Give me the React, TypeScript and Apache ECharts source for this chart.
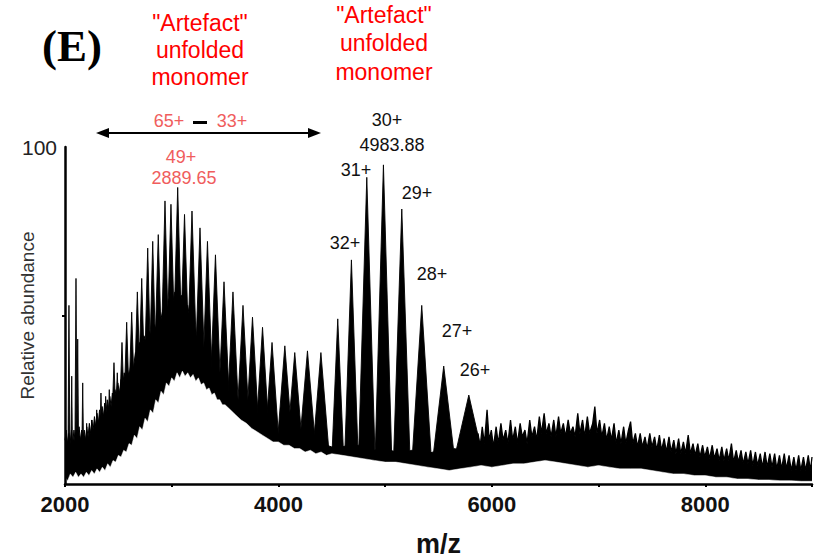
import React, { useEffect, useRef } from 'react';
import * as echarts from 'echarts';

// ---- Data ----
// Resolved charge-state peaks: m/z, relative abundance, half-width at baseline (m/z)
const peakMz = [2037, 2063, 2103, 2119, 2166, 2203, 2250, 2297, 2337, 2381, 2415, 2459, 2490, 2534, 2578, 2625, 2678, 2719, 2775, 2822, 2874, 2937, 2993, 3056, 3120, 3190, 3265, 3335, 3410, 3490, 3574, 3668, 3757, 3851, 3940, 4060, 4153, 4272, 4398, 4556, 4684, 4828, 4984, 5156, 5343, 5549, 5784];
const peakHeight = [53, 32, 61, 43, 30, 18, 19, 22, 27, 26, 28, 36, 33, 42, 48, 51, 57, 61, 70, 72, 74, 84, 83, 88, 80, 81, 76, 72, 68, 60, 57, 53, 49.5, 46.5, 42, 41, 39, 39.5, 39, 49, 66.5, 91, 94.7, 81.6, 53, 35, 26.4];
const peakHalfWidth = [11, 10, 12, 11, 12, 14, 16, 20, 24, 26, 30, 40, 40, 45, 48, 52, 54, 56, 56, 58, 66, 66, 72, 74, 80, 80, 80, 78, 82, 85, 85, 88, 88, 90, 92, 100, 100, 105, 100, 66, 72, 85, 85, 85, 105, 130, 190];

// Unresolved dense signal (upper edge of the dark mass)
const coreMz = [2000, 2012, 2024, 2036, 2048, 2060, 2072, 2084, 2096, 2108, 2120, 2132, 2144, 2156, 2168, 2180, 2192, 2204, 2216, 2228, 2240, 2252, 2264, 2276, 2288, 2300, 2312, 2324, 2336, 2348, 2360, 2372, 2384, 2396, 2408, 2420, 2432, 2444, 2456, 2468, 2480, 2495, 2510, 2525, 2540, 2555, 2570, 2585, 2600, 2620, 2640, 2660, 2680, 2700, 2720, 2740, 2760, 2780, 2800, 2825, 2850, 2875, 2900, 2925, 2950, 2975, 3000, 3030, 3060, 3090, 3120, 3150, 3180, 3210, 3240, 3270, 3300, 3330, 3360, 3390, 3420, 3450, 3480, 3510, 3540, 3570, 3600, 3640, 3680, 3720, 3760, 3800, 3840, 3880, 3920, 3960, 4000, 4050, 4100, 4150, 4200, 4250, 4300, 4350, 4400, 4450, 4500, 4550, 4600, 4650, 4700, 4750, 4800, 4850, 4900, 4950, 5000, 5050, 5100, 5150, 5200, 5250, 5300, 5350, 5400, 5450, 5500, 5550, 5600, 5650, 5700, 5750, 5800, 5850];
const coreHeight = [13, 16, 12, 15, 12, 16, 12, 16, 12, 16, 13, 17, 13, 16, 13, 16, 13, 17, 14, 18, 15, 19, 16, 20, 17, 21, 18, 22, 19, 23, 20, 24, 21, 25, 22, 26, 23, 27, 24, 28, 26, 30, 27, 31, 29, 33, 30, 34, 32, 36, 34, 39, 37, 42, 39, 44, 42, 46, 44, 48, 46, 51, 49, 53, 50, 55, 52, 57, 54, 56, 51, 53, 47, 48, 42, 43, 38, 38, 34, 34, 30, 30, 27, 27, 25, 25, 23, 23, 21, 21, 19, 19, 17, 17, 15.5, 15.5, 14.5, 14.5, 13.5, 13.5, 12.5, 12.5, 12, 12, 11.5, 11.5, 11, 11.5, 11, 11.5, 11, 11.5, 10.5, 11, 10, 10.5, 10, 10, 9.5, 10, 9.5, 10, 9, 9.5, 9, 9.5, 9, 9.5, 9.5, 10.5, 10, 10.5, 10, 9.5];

// High-m/z noisy tail
const tailMz = [5845, 5870, 5890, 5910, 5930, 5955, 5975, 5995, 6015, 6040, 6060, 6085, 6105, 6130, 6150, 6175, 6195, 6220, 6240, 6265, 6285, 6310, 6330, 6355, 6375, 6400, 6420, 6445, 6465, 6490, 6510, 6535, 6555, 6580, 6600, 6625, 6645, 6670, 6690, 6715, 6735, 6760, 6780, 6805, 6825, 6850, 6870, 6895, 6915, 6945, 6965, 6985, 7010, 7030, 7055, 7075, 7100, 7120, 7145, 7165, 7190, 7210, 7235, 7255, 7280, 7300, 7320, 7345, 7365, 7390, 7410, 7435, 7455, 7480, 7500, 7525, 7545, 7570, 7590, 7615, 7635, 7660, 7680, 7705, 7725, 7750, 7770, 7795, 7815, 7840, 7860, 7885, 7905, 7930, 7950, 7975, 7995, 8020, 8040, 8065, 8085, 8110, 8130, 8155, 8175, 8200, 8220, 8245, 8265, 8290, 8310, 8335, 8355, 8380, 8400, 8425, 8445, 8470, 8490, 8515, 8535, 8560, 8580, 8605, 8625, 8650, 8670, 8695, 8715, 8740, 8760, 8785, 8805, 8830, 8850, 8875, 8895, 8920, 8940, 8965, 8985, 9000];
const tailHeight = [9, 15, 11, 17, 12, 22, 13, 16, 11, 17, 12, 18, 13, 16, 12, 19, 13, 17, 12, 18, 14, 16, 12, 19, 14, 17, 13, 20, 15, 21, 15, 18, 14, 19, 14, 20, 15, 18, 14, 19, 15, 17, 14, 21, 15, 19, 14, 20, 15, 18, 23, 15, 19, 14, 18, 13, 17, 13, 18, 12, 16, 12, 17, 12, 16, 18.5, 12, 15, 11, 15, 11, 14, 10.5, 15, 11, 14, 10, 14.5, 10, 13.5, 9.5, 14, 9.5, 13, 9, 13.5, 9, 12.5, 9, 14.5, 9, 12, 8.5, 12, 8, 11.5, 8, 11, 7.5, 11.5, 7.5, 10.5, 7, 11, 7, 10.5, 7, 12, 6.5, 10, 6.5, 10, 6, 9.5, 6, 10, 5.5, 9.5, 5.5, 9, 5, 9.5, 5, 9, 5, 9, 4.5, 8.5, 4.5, 9, 4.5, 8.5, 4, 8, 4, 8.5, 4, 8, 4, 8.5, 4, 8];

// Lower edge of the signal (baseline noise floor)
const floorMz = [2000, 2025, 2050, 2075, 2100, 2125, 2150, 2175, 2200, 2225, 2250, 2275, 2300, 2325, 2350, 2375, 2400, 2425, 2450, 2475, 2500, 2525, 2550, 2575, 2600, 2625, 2650, 2675, 2700, 2725, 2750, 2775, 2800, 2825, 2850, 2875, 2900, 2925, 2950, 2975, 3000, 3025, 3050, 3075, 3100, 3125, 3150, 3175, 3200, 3225, 3250, 3275, 3300, 3325, 3350, 3375, 3400, 3425, 3450, 3475, 3500, 3550, 3600, 3650, 3700, 3750, 3800, 3850, 3900, 3950, 4000, 4050, 4100, 4150, 4200, 4250, 4300, 4350, 4400, 4450, 4500, 4600, 4700, 4800, 4900, 5000, 5100, 5200, 5300, 5400, 5500, 5600, 5700, 5800, 5900, 6000, 6100, 6200, 6300, 6400, 6500, 6600, 6700, 6800, 6900, 7000, 7100, 7200, 7300, 7400, 7500, 7600, 7700, 7800, 7900, 8000, 8100, 8200, 8300, 8400, 8500, 8600, 8700, 8800, 8900, 9000];
const floorHeight = [2, 1, 3, 2, 3.5, 2, 3, 2, 3.5, 2.5, 4, 3, 4.5, 3.5, 5, 4, 6, 5, 7, 6.5, 8.5, 8, 10, 9.5, 12, 11.5, 14.5, 13.5, 17, 16, 19.5, 18.5, 22, 21, 25, 24, 27.5, 26.5, 30, 29, 31.5, 30.5, 33, 31.5, 33.5, 32, 33, 31.5, 32.5, 30.5, 31.5, 29.5, 30, 28, 28.5, 26.5, 27, 25, 25, 23.5, 23.5, 22, 20.5, 19, 18, 16.5, 15.5, 14.5, 13.5, 12.5, 12.5, 11.5, 11.5, 10.5, 10.5, 9.5, 10, 9, 9.5, 8.5, 9, 8.5, 8, 7.5, 7, 6.5, 6.5, 6, 5.5, 5, 4.5, 4, 4.5, 5, 5.5, 5, 5.5, 6, 6, 6.5, 7, 6.5, 6, 5.5, 5, 5.5, 5, 4.5, 4.5, 4.5, 4, 3.5, 3, 3, 2.5, 2.5, 2, 2, 1.5, 1.5, 1.2, 1.2, 1, 1, 0.8, 0.8];

// Axis labels / texts
const xAxisTitle = 'm/z';
const yAxisTitle = 'Relative abundance';
const panelLabel = '(E)';
const artefactLines = ['"Artefact"', 'unfolded', 'monomer'];
const rangeLabels = ['65+', '33+'];
const leftPeakLabel = ['49+', '2889.65'];
const apexLabel = ['30+', '4983.88'];
const chargeLabels = ['31+', '29+', '32+', '28+', '27+', '26+'];

const SANS = '"Liberation Sans", Arial, sans-serif';
const RED = '#ff0000';
const SALMON = '#f05d5d';
const INK = '#111111';

function txt(text: string, x: number, y: number, size: number, fill: string, extra: any = {}) {
  return {
    type: 'text',
    x,
    y,
    silent: true,
    style: {
      text,
      fill,
      font: `${extra.weight || 'normal'} ${size}px ${extra.family || SANS}`,
      textAlign: 'center',
      textVerticalAlign: 'middle',
      align: 'center',
      verticalAlign: 'middle',
    },
  };
}

export default function App() {
  const ref = useRef<HTMLDivElement>(null);

  useEffect(() => {
    document.body.style.margin = '0';
    const chart = echarts.init(ref.current!, null, { renderer: 'svg' });

    const peakData = peakMz.map((m, i) => [m, peakHeight[i], peakHalfWidth[i]]);
    const coreData = coreMz.map((m, i) => [m, coreHeight[i]]);
    const tailData = tailMz.map((m, i) => [m, tailHeight[i]]);
    const floorData = floorMz.map((m, i) => [m, floorHeight[i]]);

    const graphic: any[] = [
      txt(panelLabel, 72, 46, 45, '#000', { weight: 'bold', family: '"Liberation Serif", "Times New Roman", serif' }),
      txt(artefactLines[0], 200, 23, 23, RED),
      txt(artefactLines[1], 200, 50, 23, RED),
      txt(artefactLines[2], 200, 77, 23, RED),
      txt(artefactLines[0], 384, 15, 23, RED),
      txt(artefactLines[1], 384, 43, 23, RED),
      txt(artefactLines[2], 384, 72, 23, RED),
      // double-headed arrow
      { type: 'line', silent: true, shape: { x1: 104, y1: 133, x2: 313, y2: 133 }, style: { stroke: '#000', lineWidth: 2 } },
      { type: 'polygon', silent: true, shape: { points: [[96, 133], [109, 128], [109, 138]] }, style: { fill: '#000' } },
      { type: 'polygon', silent: true, shape: { points: [[321, 133], [308, 128], [308, 138]] }, style: { fill: '#000' } },
      txt(rangeLabels[0], 169, 121, 18, SALMON),
      { type: 'rect', silent: true, shape: { x: 193, y: 121, width: 14, height: 3 }, style: { fill: '#000' } },
      txt(rangeLabels[1], 232, 121, 18, SALMON),
      txt(leftPeakLabel[0], 181, 157, 18, SALMON),
      txt(leftPeakLabel[1], 184, 178, 18, SALMON),
      txt(apexLabel[0], 387, 120, 18, INK),
      txt(apexLabel[1], 392, 145, 18, INK),
      txt(chargeLabels[0], 356, 170, 18, INK),
      txt(chargeLabels[1], 417, 193, 18, INK),
      txt(chargeLabels[2], 345, 243, 18, INK),
      txt(chargeLabels[3], 432, 274, 18, INK),
      txt(chargeLabels[4], 457, 331, 18, INK),
      txt(chargeLabels[5], 475, 370, 18, INK),
    ];

    chart.setOption({
      animation: false,
      backgroundColor: '#ffffff',
      grid: { left: 65, right: 19, top: 147, bottom: 75, containLabel: false, outerBoundsMode: 'none' },
      xAxis: {
        type: 'value',
        min: 2000,
        max: 9000,
        interval: 1000,
        z: 5,
        axisLine: { show: true, onZero: true, lineStyle: { color: '#000', width: 2.5 } },
        axisTick: { show: true, length: 3, lineStyle: { color: '#000', width: 2 } },
        splitLine: { show: false },
        axisLabel: {
          formatter: (v: number) => (v % 2000 === 0 ? String(v) : ''),
          fontFamily: SANS,
          fontWeight: 'bold',
          fontSize: 22,
          color: INK,
          margin: 9,
        },
        name: xAxisTitle,
        nameLocation: 'middle',
        nameGap: 46,
        nameMoveOverlap: false,
        nameTextStyle: { fontFamily: SANS, fontWeight: 'bold', fontSize: 27, color: INK },
      },
      yAxis: {
        type: 'value',
        min: 0,
        max: 100,
        interval: 50,
        z: 5,
        axisLine: { show: true, lineStyle: { color: '#000', width: 2.5 } },
        axisTick: { show: true, length: 3, lineStyle: { color: '#000', width: 2 }, customValues: [50] },
        splitLine: { show: false },
        axisLabel: {
          customValues: [100],
          formatter: (v: number) => (v === 100 ? '100' : ''),
          fontFamily: SANS,
          fontSize: 21,
          color: '#222',
          margin: 8,
          padding: [0, 0, 9, 0],
        },
        name: yAxisTitle,
        nameLocation: 'middle',
        nameGap: 28,
        nameMoveOverlap: false,
        nameTextStyle: { fontFamily: SANS, fontSize: 19, color: '#333' },
      },
      graphic,
      series: [
        {
          name: 'core',
          type: 'line',
          z: 1,
          silent: true,
          symbol: 'none',
          data: coreData,
          lineStyle: { color: '#000', width: 1 },
          areaStyle: { color: '#000', opacity: 1 },
        },
        {
          name: 'peaks',
          type: 'custom',
          z: 2,
          silent: true,
          clip: true,
          encode: { x: 0, y: 1 },
          data: peakData,
          renderItem: (_params: any, api: any) => {
            const m = api.value(0);
            const h = api.value(1);
            const w = api.value(2);
            const a = api.coord([m - w, 0]);
            const b = api.coord([m, h]);
            const c = api.coord([m + w, 0]);
            return {
              type: 'polygon',
              shape: { points: [a, b, c] },
              style: { fill: '#000', stroke: '#000', lineWidth: 0.9 },
            };
          },
        },
        {
          name: 'tail',
          type: 'line',
          z: 2,
          silent: true,
          symbol: 'none',
          data: tailData,
          lineStyle: { color: '#000', width: 1.3 },
          areaStyle: { color: '#000', opacity: 1 },
        },
        {
          name: 'floor',
          type: 'line',
          z: 3,
          silent: true,
          symbol: 'none',
          data: floorData,
          lineStyle: { color: '#fff', width: 0.5 },
          areaStyle: { color: '#fff', opacity: 1 },
        },
      ],
    });

    return () => chart.dispose();
  }, []);

  return <div ref={ref} style={{ width: 831, height: 559 }} />;
}
